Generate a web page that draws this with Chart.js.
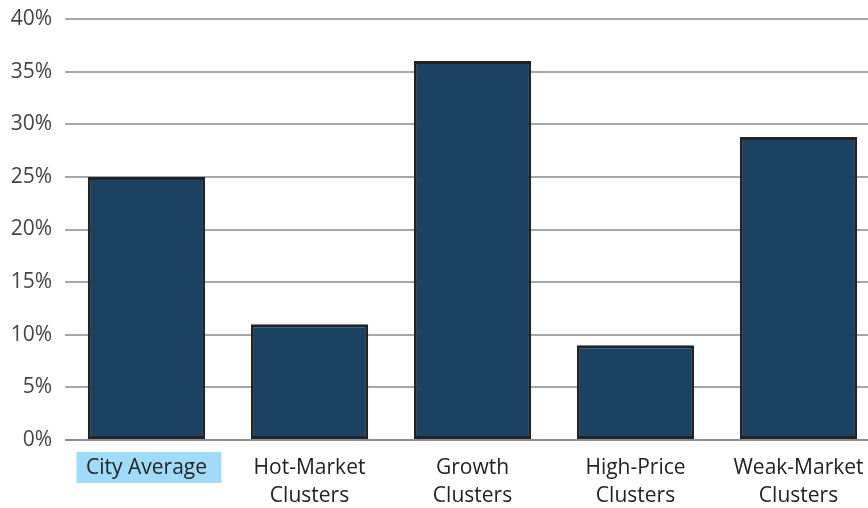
<!DOCTYPE html>
<html>
<head>
<meta charset="utf-8">
<script src="https://cdn.jsdelivr.net/npm/chart.js@4"></script>
<style>
    html, body { margin: 0; padding: 0; background: #fff; overflow: hidden; }
    #wrap { width: 880px; height: 508px; position: relative; }
</style>
</head>
<body>
<div id="wrap"><canvas id="clusterChart"></canvas></div>
<script>
// chart data
const categories = [
    ["City Average"],
    ["Hot-Market", "Clusters"],
    ["Growth", "Clusters"],
    ["High-Price", "Clusters"],
    ["Weak-Market", "Clusters"]
];
const shareValues = [25, 11, 36, 9, 28.8];
const yTicks = [0, 5, 10, 15, 20, 25, 30, 35, 40];

const fontFamily = "'Open Sans', 'DejaVu Sans', sans-serif";

// light blue box behind the first category label
const highlightPlugin = {
    id: 'labelHighlight',
    beforeDraw(chart) {
        const x = chart.scales.x;
        const ctx = chart.ctx;
        const cx = x.getPixelForTick(0);
        ctx.save();
        ctx.fillStyle = '#a0dcf8';
        ctx.fillRect(cx - 70, 452, 145, 31);
        ctx.restore();
    }
};

const ctx = document.getElementById('clusterChart').getContext('2d');
new Chart(ctx, {
    type: 'bar',
    data: {
        labels: categories,
        datasets: [{
            data: shareValues,
            backgroundColor: '#1b4263',
            borderColor: '#202428',
            borderWidth: 3,
            borderSkipped: false,
            categoryPercentage: 1,
            barPercentage: 0.72
        }]
    },
    options: {
        responsive: true,
        maintainAspectRatio: false,
        animation: false,
        layout: { padding: { top: 19, right: 0, left: 0, bottom: 0 } },
        plugins: {
            legend: { display: false },
            tooltip: { enabled: false }
        },
        scales: {
            x: {
                grid: { display: false },
                border: { display: false },
                ticks: {
                    color: '#222',
                    font: { family: fontFamily, size: 21, lineHeight: '28px' },
                    padding: 6,
                    maxRotation: 0,
                    autoSkip: false
                },
                afterFit(scale) { scale.height = 68; }
            },
            y: {
                min: 0,
                max: 40,
                afterBuildTicks(scale) {
                    scale.ticks = yTicks.map(v => ({ value: v }));
                },
                grid: {
                    color: (c) => c.tick && c.tick.value === 0 ? '#8a8e92' : '#a4a8ac',
                    lineWidth: 2,
                    drawTicks: false
                },
                border: { display: false },
                ticks: {
                    color: '#444',
                    font: { family: fontFamily, size: 21 },
                    padding: 13,
                    callback: (v) => v + '%'
                },
                afterFit(scale) {
                    scale.width = 65;
                    scale.paddingTop = 0;
                    scale.paddingBottom = 0;
                }
            }
        }
    },
    plugins: [highlightPlugin]
});
</script>
</body>
</html>
